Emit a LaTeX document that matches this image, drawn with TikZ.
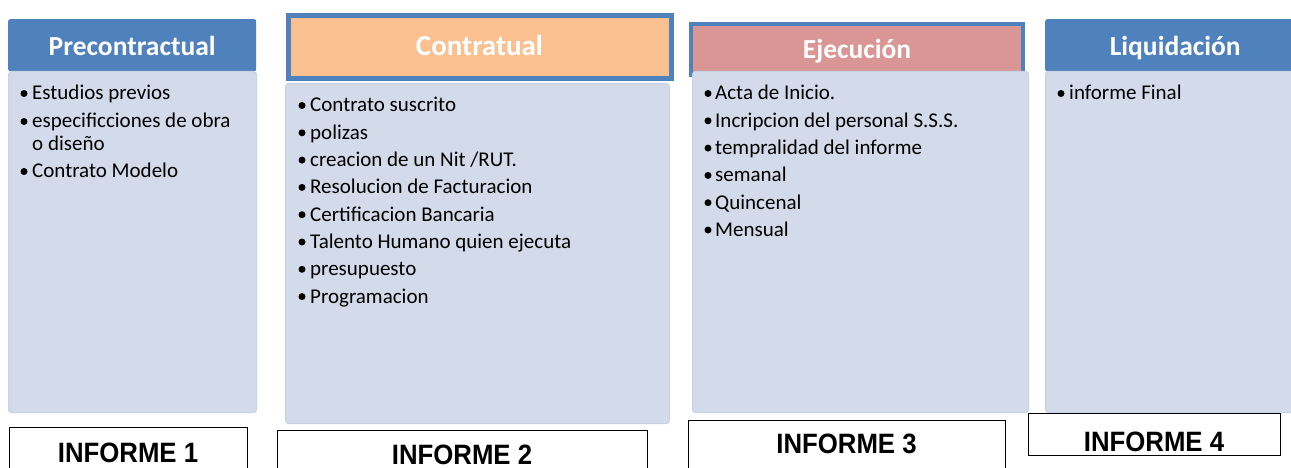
\documentclass[tikz,border=0pt]{standalone}
\usepackage{fontspec}
\setmainfont{Carlito}
\newfontfamily\arialfont[FakeStretch=0.92]{Liberation Sans}
\definecolor{hdrblue}{HTML}{4F81BD}
\definecolor{hdrorange}{HTML}{FAC090}
\definecolor{hdrpink}{HTML}{D99694}
\definecolor{bodyfill}{HTML}{D3DAE9}
\definecolor{bodyedge}{HTML}{C9D1E4}
\tikzset{
  hdr/.style={anchor=north west, inner sep=0pt, text=white, text height=20pt, text depth=0pt,
    font=\bfseries\fontsize{27.5}{30}\selectfont},
  bodybox/.style={anchor=north west, inner sep=0pt, fill=bodyfill, draw=bodyedge, line width=1pt, rounded corners=3pt},
  itm/.style={anchor=base west, inner sep=0pt, font=\fontsize{21}{25}\selectfont},
  dot/.style={circle, fill=black, inner sep=0pt, minimum size=7pt},
  informe/.style={anchor=north west, inner sep=0pt, draw=black, line width=0.8pt},
  inftext/.style={anchor=base, inner sep=0pt, font=\arialfont\bfseries\fontsize{28}{30}\selectfont}
}
\begin{document}
\begin{tikzpicture}[x=1pt,y=-1pt]
  \useasboundingbox (0,0) rectangle (1291,468);
  % headers
  \node[hdr, fill=hdrblue, rounded corners=2pt, minimum width=248pt, minimum height=52pt] (h1) at (8,19) {Precontractual};
  \node[hdr, fill=hdrorange, draw=hdrblue, line width=5pt, minimum width=383pt, minimum height=63pt,
        text height=16pt, font=\bfseries\fontsize{29}{32}\selectfont] (h2) at (285.5,13.5) {Contratual};
  \node[hdr, fill=hdrpink, draw=hdrblue, line width=4pt, minimum width=332pt, minimum height=51pt,
        text height=19pt] (h3) at (689,22) {Ejecución};
  \node[hdr, fill=hdrblue, rounded corners=2pt, minimum width=260pt, minimum height=52pt] (h4) at (1045,19) {Liquidación};
  % bodies
  \node[bodybox, minimum width=248pt, minimum height=341pt] (b1) at (8,71) {};
  \node[bodybox, minimum width=384pt, minimum height=340pt] (b2) at (285,83) {};
  \node[bodybox, minimum width=336pt, minimum height=341pt] (b3) at (692,71) {};
  \node[bodybox, minimum width=260pt, minimum height=341pt] (b4) at (1045,71) {};
  % items
  \node[dot] (p1-1b) at (24,93.5) {};
  \node[itm] (p1-1) at (32,100) {Estudios previos};
  \node[dot] (p1-2b) at (24,121.5) {};
  \node[itm] (p1-2) at (32,128) {especificciones de obra};
  \node[itm] (p1-2c) at (32,150) {o diseño};
  \node[dot] (p1-3b) at (24,171.5) {};
  \node[itm] (p1-3) at (32,178) {Contrato Modelo};
  \foreach \t [count=\i from 0] in {Contrato suscrito, polizas, creacion de un Nit /RUT.,
      Resolucion de Facturacion, Certificacion Bancaria, Talento Humano quien ejecuta,
      presupuesto, Programacion} {
    \node[dot] (p2-\i b) at (302,{105.5+27.3*\i}) {};
    \node[itm] (p2-\i) at (310,{112+27.3*\i}) {\t};
  }
  \foreach \t [count=\i from 0] in {Acta de Inicio., Incripcion del personal S.S.S.,
      tempralidad del informe, semanal, Quincenal, Mensual} {
    \node[dot] (p3-\i b) at (708,{93.5+27.3*\i}) {};
    \node[itm] (p3-\i) at (715,{100+27.3*\i}) {\t};
  }
  \node[dot] (p4-1b) at (1061,93.5) {};
  \node[itm] (p4-1) at (1069,100) {informe Final};
  % informes
  \node[informe, minimum width=238pt, minimum height=50pt] (i1) at (9,427) {};
  \node[informe, minimum width=370pt, minimum height=45pt] (i2) at (277,430) {};
  \node[informe, minimum width=317pt, minimum height=55pt] (i3) at (688,420) {};
  \node[informe, minimum width=252pt, minimum height=42pt] (i4) at (1028,413) {};
  \node[inftext] (t1) at (128,462) {INFORME 1};
  \node[inftext] (t2) at (462,464) {INFORME 2};
  \node[inftext] (t3) at (846.5,453) {INFORME 3};
  \node[inftext] (t4) at (1154,451) {INFORME 4};
\end{tikzpicture}
\end{document}
